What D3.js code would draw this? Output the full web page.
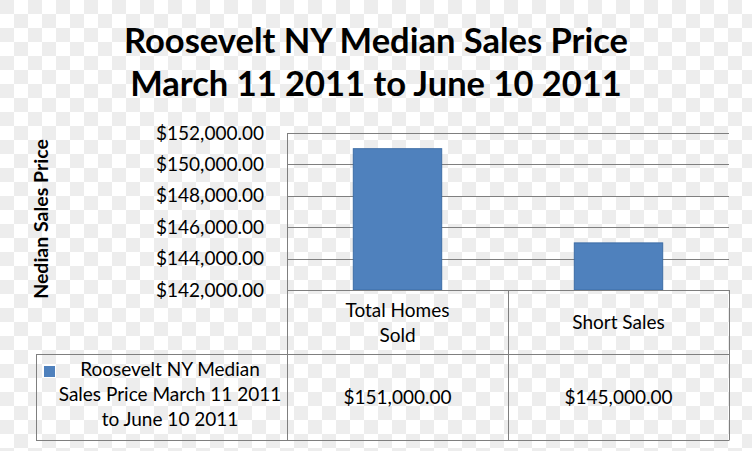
<!DOCTYPE html>
<html><head><meta charset="utf-8">
<script src="https://cdn.jsdelivr.net/npm/d3@7"></script>
<style>body{margin:0;padding:0;overflow:hidden;background:#fff}</style>
</head><body>
<svg id="c" width="752" height="451"></svg>
<script>
const titleLines = ["Roosevelt NY Median Sales Price", "March 11 2011 to June 10 2011"];
const categories = ["Total Homes Sold", "Short Sales"];
const categoryLabelLines = [["Total Homes", "Sold"], ["Short Sales"]];
const seriesName = ["Roosevelt NY Median", "Sales Price March 11 2011", "to June 10 2011"];
const values = [151000, 145000];
const yTicks = [142000, 144000, 146000, 148000, 150000, 152000];
const yLabel = "Nedian Sales Price";

const svg = d3.select("#c");
const W = 752, H = 451;
const font = "Lato, 'Open Sans', sans-serif";
const fs = 19;

// checkerboard background
const defs = svg.append("defs");
const pat = defs.append("pattern").attr("id","chk").attr("width",28).attr("height",28).attr("patternUnits","userSpaceOnUse");
pat.append("rect").attr("width",28).attr("height",28).attr("fill","#ffffff");
pat.append("rect").attr("x",0).attr("y",0).attr("width",14).attr("height",14).attr("fill","#ededed");
pat.append("rect").attr("x",14).attr("y",14).attr("width",14).attr("height",14).attr("fill","#ededed");
svg.append("rect").attr("width",W).attr("height",H).attr("fill","url(#chk)");

const L = 287, R = 729, T = 133, B = 290;
const y = d3.scaleLinear().domain([142000,152000]).range([B,T]);
const x = d3.scaleBand().domain(categories).range([L,R]).padding(0);
const barW = x.bandwidth()*0.4;
const fmt = v => "$" + d3.format(",.2f")(v);
const gridC = "#7f7f7f";

// title
svg.append("g").selectAll("text").data(titleLines).join("text")
  .attr("x",376).attr("y",(d,i)=>53+i*43).attr("text-anchor","middle")
  .attr("font-family",font).attr("font-weight","bold").attr("font-size",34.5).attr("fill","#000")
  .text(d=>d);

// gridlines
svg.append("g").selectAll("line").data(yTicks).join("line")
  .attr("x1",L).attr("x2",R).attr("y1",d=>Math.round(y(d))+0.5).attr("y2",d=>Math.round(y(d))+0.5)
  .attr("stroke",gridC).attr("stroke-width",1);

// y axis via d3 axis
const yAxis = svg.append("g").attr("transform",`translate(${L},0)`)
  .call(d3.axisLeft(y).tickValues(yTicks).tickFormat(fmt).tickSize(0).tickPadding(23));
yAxis.select(".domain").remove();
yAxis.selectAll("text").attr("font-family",font).attr("font-size",fs).attr("fill","#000");

// bars
svg.append("g").selectAll("rect").data(values).join("rect")
  .attr("x",(d,i)=>x(categories[i])+(x.bandwidth()-barW)/2)
  .attr("y",d=>y(d)).attr("width",barW).attr("height",d=>B-y(d))
  .attr("fill","#4f81bd").attr("stroke","#3d6da6").attr("stroke-width",1);

// table
const r1 = 354, r2 = 440, legL = 36;
const g = svg.append("g").attr("stroke",gridC).attr("stroke-width",1).attr("fill","none");
g.append("line").attr("x1",L+0.5).attr("x2",L+0.5).attr("y1",T).attr("y2",r2+0.5);
g.append("line").attr("x1",R+0.5).attr("x2",R+0.5).attr("y1",B).attr("y2",r2+0.5);
g.append("line").attr("x1",(L+R)/2+0.5).attr("x2",(L+R)/2+0.5).attr("y1",B).attr("y2",r2+0.5);
g.append("line").attr("x1",L).attr("x2",R).attr("y1",B+0.5).attr("y2",B+0.5);
g.append("line").attr("x1",legL).attr("x2",R).attr("y1",r1+0.5).attr("y2",r1+0.5);
g.append("line").attr("x1",legL).attr("x2",R).attr("y1",r2+0.5).attr("y2",r2+0.5);
g.append("line").attr("x1",legL+0.5).attr("x2",legL+0.5).attr("y1",r1).attr("y2",r2+0.5);

// category labels
categories.forEach((c,i)=>{
  const lines = categoryLabelLines[i];
  const cx = x(c)+x.bandwidth()/2;
  const cy = (B+r1)/2;
  lines.forEach((t,j)=>{
    svg.append("text").attr("x",cx).attr("y",cy+(j-(lines.length-1)/2)*25+7)
      .attr("text-anchor","middle").attr("font-family",font).attr("font-size",fs).attr("fill","#000").text(t);
  });
  svg.append("text").attr("x",cx).attr("y",(r1+r2)/2+7)
    .attr("text-anchor","middle").attr("font-family",font).attr("font-size",fs).attr("fill","#000").text(fmt(values[i]));
});

// legend cell
svg.append("rect").attr("x",44).attr("y",366).attr("width",11).attr("height",11).attr("fill","#4f81bd");
seriesName.forEach((t,j)=>{
  svg.append("text").attr("x",170).attr("y",376+j*25).attr("text-anchor","middle")
    .attr("font-family",font).attr("font-size",fs).attr("fill","#000").text(t);
});

// y label
svg.append("text").attr("transform","translate(48,219) rotate(-90)").attr("text-anchor","middle")
  .attr("font-family",font).attr("font-weight","bold").attr("font-size",19.5).attr("fill","#000").text(yLabel);
</script>
</body></html>
